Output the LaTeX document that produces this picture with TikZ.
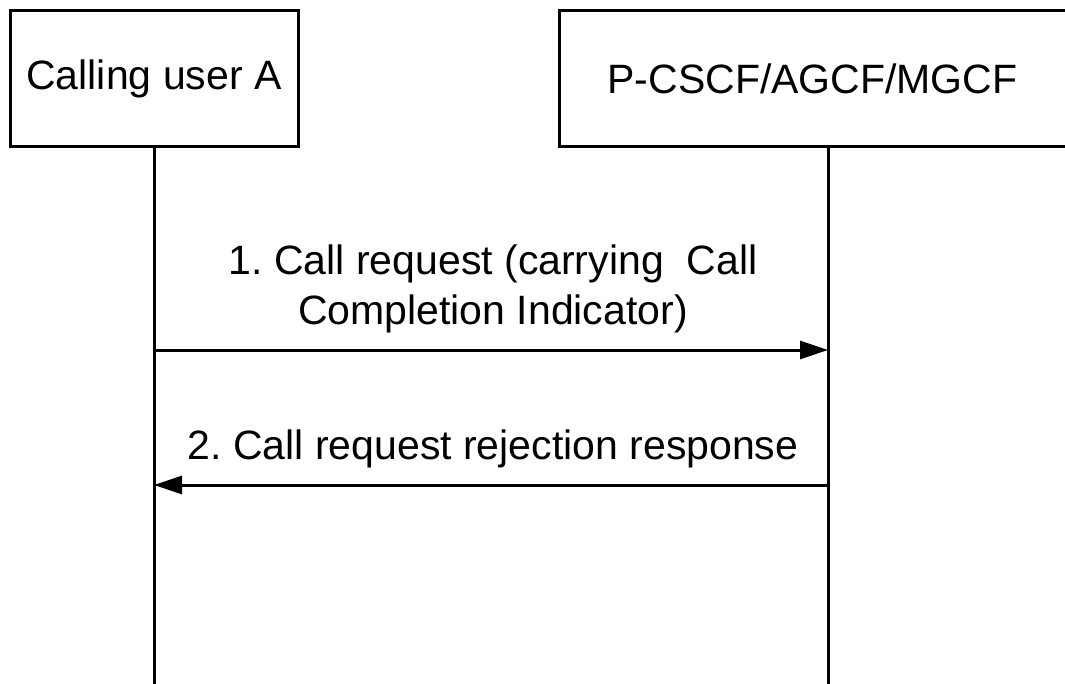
\documentclass[tikz,border=0pt]{standalone}
\usepackage{fontspec}
\setmainfont{Liberation Sans}
\usetikzlibrary{arrows.meta}

\tikzset{
  entity/.style={draw,line width=1.5pt,inner sep=0pt,minimum height=68pt,font=\fontsize{20.5}{24}\selectfont},
  lifeline/.style={line width=1.5pt},
  msg/.style={line width=1.5pt,-{Triangle[length=14pt,width=9pt]}},
  msgtext/.style={font=\fontsize{20.5}{25}\selectfont\frenchspacing,align=center,inner sep=0pt,anchor=south}
}

\begin{document}
\begin{tikzpicture}[x=0.5pt,y=-0.5pt]
\useasboundingbox (0,0) rectangle (1065,684);
\clip (0,0) rectangle (1065,684);
% entities
\node[entity,minimum width=144pt] (userA) at (154,79) {Calling user A};
\node[entity,minimum width=253.5pt] (pcscf) at (812.5,79) {P-CSCF/AGCF/MGCF};
% lifelines
\coordinate (userAend) at (154,684);
\coordinate (pcscfend) at (828,684);
\coordinate (pcscftop) at (pcscf.south -| pcscfend);
\draw[lifeline] (userA.south) -- (userAend);
\draw[lifeline] (pcscftop) -- (pcscfend);
% message points
\coordinate (a1) at (154,350);
\coordinate (b1) at (828,350);
\coordinate (a2) at (154,485);
\coordinate (b2) at (828,485);
% messages
\draw[msg] (a1) -- (b1);
\node[msgtext] (m1) at (493,333) {1. Call request (carrying\ \ Call\\Completion Indicator)};
\draw[msg] (b2) -- (a2);
\node[msgtext] (m2) at (493,468) {2. Call request rejection response};
\end{tikzpicture}
\end{document}
